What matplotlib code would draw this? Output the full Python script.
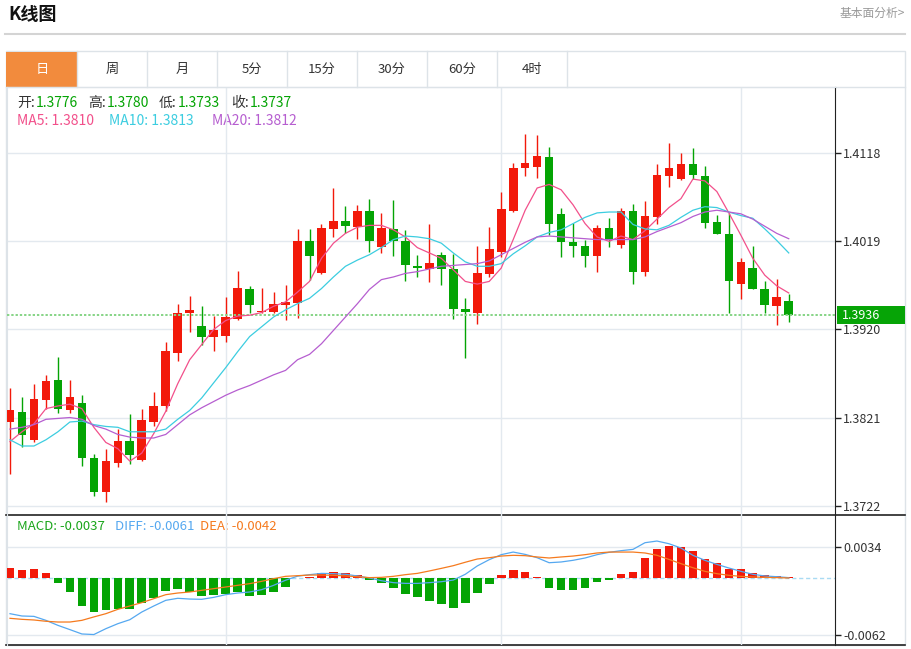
import numpy as np
import matplotlib.pyplot as plt
import matplotlib.transforms as mtransforms
from matplotlib.patches import Rectangle

plt.rcParams['font.family'] = ['Noto Sans CJK SC', 'DejaVu Sans']

# Data (daily candles)
opens = [1.3816, 1.3827, 1.3796, 1.3841, 1.3863, 1.3830, 1.3837, 1.3776, 1.3737, 1.3770,
         1.3795, 1.3773, 1.3816, 1.3834, 1.3894, 1.3938, 1.3924, 1.3911, 1.3913, 1.3932,
         1.3965, 1.3940, 1.3940, 1.3947, 1.3950, 1.4019, 1.3984, 1.4033, 1.4042, 1.4035,
         1.4053, 1.4013, 1.4033, 1.4019, 1.3991, 1.3988, 1.4004, 1.3988, 1.3943, 1.3939,
         1.3982, 1.4007, 1.4053, 1.4101, 1.4103, 1.4114, 1.4050, 1.4018, 1.4014, 1.4003,
         1.4034, 1.4015, 1.4053, 1.3985, 1.4046, 1.4092, 1.4089, 1.4106, 1.4092, 1.4041,
         1.4027, 1.3971, 1.3989, 1.3966, 1.3946, 1.3952]
highs = [1.3854, 1.3844, 1.3859, 1.3869, 1.3889, 1.3863, 1.3846, 1.3780, 1.3786, 1.3808,
         1.3825, 1.3831, 1.3850, 1.3906, 1.3949, 1.3958, 1.3946, 1.3935, 1.3957, 1.3986,
         1.3969, 1.3967, 1.3962, 1.3970, 1.4033, 1.4033, 1.4039, 1.4079, 1.4059, 1.4060,
         1.4067, 1.4051, 1.4065, 1.4032, 1.4004, 1.4038, 1.4007, 1.4005, 1.3955, 1.4014,
         1.4035, 1.4075, 1.4107, 1.4140, 1.4139, 1.4125, 1.4056, 1.4040, 1.4021, 1.4037,
         1.4045, 1.4057, 1.4061, 1.4064, 1.4106, 1.4130, 1.4118, 1.4124, 1.4104, 1.4049,
         1.4051, 1.4000, 1.4014, 1.3974, 1.3977, 1.3960]
lows = [1.3758, 1.3788, 1.3793, 1.3831, 1.3826, 1.3826, 1.3766, 1.3733, 1.3726, 1.3765,
        1.3769, 1.3772, 1.3811, 1.3828, 1.3885, 1.3917, 1.3903, 1.3896, 1.3906, 1.3931,
        1.3939, 1.3939, 1.3938, 1.3931, 1.3933, 1.3976, 1.3982, 1.4024, 1.4028, 1.4022,
        1.4007, 1.4006, 1.4003, 1.3975, 1.3979, 1.3973, 1.3970, 1.3932, 1.3888, 1.3926,
        1.3979, 1.4002, 1.4052, 1.4093, 1.4090, 1.4026, 1.4001, 1.4001, 1.3990, 1.3985,
        1.4013, 1.4012, 1.3971, 1.3980, 1.4039, 1.4080, 1.4088, 1.4089, 1.4034, 1.4027,
        1.3938, 1.3954, 1.3965, 1.3938, 1.3925, 1.3928]
closes = [1.3829, 1.3801, 1.3842, 1.3862, 1.3831, 1.3844, 1.3776, 1.3737, 1.3772, 1.3795,
          1.3779, 1.3818, 1.3834, 1.3896, 1.3939, 1.3942, 1.3912, 1.3919, 1.3934, 1.3967,
          1.3947, 1.3941, 1.3949, 1.3951, 1.4019, 1.4003, 1.4034, 1.4042, 1.4036, 1.4053,
          1.4019, 1.4034, 1.4019, 1.3992, 1.3989, 1.3995, 1.3988, 1.3943, 1.3940, 1.3983,
          1.4010, 1.4055, 1.4102, 1.4107, 1.4115, 1.4039, 1.4018, 1.4014, 1.4003, 1.4034,
          1.4021, 1.4053, 1.3985, 1.4047, 1.4094, 1.4101, 1.4106, 1.4094, 1.4040, 1.4027,
          1.3975, 1.3996, 1.3965, 1.3948, 1.3956, 1.3936]
ma5 = [1.3794, 1.3805, 1.3814, 1.3831, 1.3834, 1.3836, 1.3831, 1.3810, 1.3793, 1.3786,
       1.3772, 1.3781, 1.3803, 1.3828, 1.3859, 1.3886, 1.3903, 1.3920, 1.3930, 1.3935,
       1.3936, 1.3939, 1.3946, 1.3951, 1.3962, 1.3974, 1.4000, 1.4017, 1.4028, 1.4035,
       1.4037, 1.4037, 1.4032, 1.4024, 1.4012, 1.4006, 1.4000, 1.3987, 1.3974, 1.3971,
       1.3974, 1.3989, 1.4021, 1.4054, 1.4079, 1.4083, 1.4077, 1.4060, 1.4039, 1.4024,
       1.4019, 1.4025, 1.4021, 1.4031, 1.4044, 1.4057, 1.4067, 1.4089, 1.4087, 1.4075,
       1.4051, 1.4026, 1.4000, 1.3981, 1.3969, 1.3961]
ma10 = [1.3796, 1.3789, 1.3789, 1.3796, 1.3805, 1.3816, 1.3817, 1.3813, 1.3811, 1.3810,
        1.3805, 1.3805, 1.3805, 1.3808, 1.3819, 1.3829, 1.3843, 1.3860, 1.3877, 1.3895,
        1.3912, 1.3923, 1.3934, 1.3942, 1.3949, 1.3955, 1.3966, 1.3979, 1.3991, 1.3998,
        1.4004, 1.4012, 1.4021, 1.4025, 1.4024, 1.4022, 1.4017, 1.4006, 1.3996, 1.3991,
        1.3991, 1.3994, 1.4005, 1.4014, 1.4024, 1.4029, 1.4032, 1.4039, 1.4046, 1.4051,
        1.4052, 1.4052, 1.4038, 1.4033, 1.4032, 1.4037, 1.4046, 1.4054, 1.4058, 1.4057,
        1.4052, 1.4048, 1.4045, 1.4033, 1.4020, 1.4006]
ma20 = [1.3808, 1.3810, 1.3813, 1.3819, 1.3820, 1.3821, 1.3819, 1.3812, 1.3808, 1.3802,
        1.3799, 1.3798, 1.3798, 1.3802, 1.3813, 1.3824, 1.3832, 1.3839, 1.3846, 1.3852,
        1.3857, 1.3863, 1.3869, 1.3874, 1.3886, 1.3892, 1.3904, 1.3919, 1.3934, 1.3949,
        1.3965, 1.3976, 1.3979, 1.3983, 1.3985, 1.3988, 1.3991, 1.3992, 1.3993, 1.3994,
        1.3997, 1.4004, 1.4011, 1.4018, 1.4024, 1.4025, 1.4024, 1.4023, 1.4022, 1.4021,
        1.4021, 1.4021, 1.4021, 1.4024, 1.4030, 1.4035, 1.4040, 1.4047, 1.4052, 1.4054,
        1.4052, 1.4050, 1.4044, 1.4036, 1.4028, 1.4022]
diff = [-0.00385, -0.00410, -0.00414, -0.00457, -0.00511, -0.00557, -0.00604, -0.00610, -0.00547, -0.00493,
        -0.00450, -0.00367, -0.00302, -0.00241, -0.00219, -0.00227, -0.00230, -0.00209, -0.00180, -0.00162,
        -0.00151, -0.00126, -0.00079, -0.00024, 0.00020, 0.00036, 0.00050, 0.00047, 0.00040, 0.00022,
        0.00000, -0.00029, -0.00050, -0.00058, -0.00058, -0.00050, -0.00040, -0.00022, 0.00040, 0.00130,
        0.00198, 0.00252, 0.00280, 0.00255, 0.00219, 0.00165, 0.00173, 0.00191, 0.00216, 0.00252,
        0.00277, 0.00295, 0.00309, 0.00381, 0.00399, 0.00370, 0.00324, 0.00245, 0.00191, 0.00147,
        0.00108, 0.00072, 0.00040, 0.00022, 0.00014, 0.00004]
dea = [-0.00435, -0.00446, -0.00453, -0.00467, -0.00475, -0.00475, -0.00457, -0.00420, -0.00385, -0.00338,
       -0.00302, -0.00266, -0.00223, -0.00180, -0.00162, -0.00151, -0.00133, -0.00115, -0.00097, -0.00079,
       -0.00061, -0.00036, -0.00007, 0.00018, 0.00025, 0.00032, 0.00032, 0.00029, 0.00022, 0.00014,
       0.00004, 0.00007, 0.00018, 0.00036, 0.00050, 0.00076, 0.00104, 0.00133, 0.00170, 0.00205,
       0.00219, 0.00237, 0.00245, 0.00241, 0.00227, 0.00216, 0.00227, 0.00237, 0.00252, 0.00270,
       0.00280, 0.00280, 0.00280, 0.00270, 0.00245, 0.00201, 0.00155, 0.00111, 0.00072, 0.00047,
       0.00029, 0.00018, 0.00011, 0.00007, 0.00004, 0.00000]
macd = [0.00111, 0.00090, 0.00097, 0.00050, -0.00054, -0.00151, -0.00298, -0.00370, -0.00342, -0.00334,
        -0.00338, -0.00270, -0.00216, -0.00137, -0.00115, -0.00147, -0.00191, -0.00180, -0.00173, -0.00155,
        -0.00191, -0.00180, -0.00151, -0.00094, 0.00000, 0.00010, 0.00057, 0.00068, 0.00050, 0.00036,
        -0.00022, -0.00050, -0.00112, -0.00173, -0.00209, -0.00245, -0.00284, -0.00324, -0.00270, -0.00162,
        -0.00068, 0.00029, 0.00083, 0.00061, 0.00007, -0.00104, -0.00129, -0.00126, -0.00104, -0.00043,
        -0.00018, 0.00040, 0.00061, 0.00212, 0.00309, 0.00342, 0.00338, 0.00288, 0.00201, 0.00158,
        0.00101, 0.00101, 0.00050, 0.00032, 0.00022, 0.00010]

price_ticks = [1.3722, 1.3821, 1.3920, 1.4019, 1.4118]
macd_ticks = [-0.0062, 0.0034]
month_starts = [18, 41, 61]
tabs = ['日', '周', '月', '5分', '15分', '30分', '60分', '4时']
ohlc_labels = [('开:', '1.3776'), ('高:', '1.3780'), ('低:', '1.3733'), ('收:', '1.3737')]
ma_labels = ['MA5: 1.3810', 'MA10: 1.3813', 'MA20: 1.3812']
macd_labels = ['MACD: -0.0037', 'DIFF: -0.0061', 'DEA: -0.0042']

# Styles
RED, GREEN = '#f2190a', '#04a404'
C_MA5, C_MA10, C_MA20 = '#f2508b', '#3ccde0', '#b65ed0'
C_DIFF, C_DEA = '#55a8f0', '#f57a1e'
GRID = '#e3e9ef'
TXT = '#333333'

W, H = 911, 649
fig = plt.figure(figsize=(W / 100, H / 100), dpi=100)


def px_rect(x0, y0, x1, y1):
    return [x0 / W, 1 - y1 / H, (x1 - x0) / W, (y1 - y0) / H]


# Page furniture in pixel coordinates
bg = fig.add_axes([0, 0, 1, 1])
bg.set_xlim(0, W)
bg.set_ylim(H, 0)
bg.axis('off')
bg.text(8, 15, 'K线图', fontsize=13, fontweight='bold', va='center', color='#111111')
bg.text(905, 13, '基本面分析>', fontsize=8.5, va='center', ha='right', color='#999999')
bg.plot([5, 905], [34, 34], color='#d4d4d4', lw=1.5)
bg.add_patch(Rectangle((5.5, 51), 899.5, 594, fc='white', ec='#dde3e8', lw=1))
bg.add_patch(Rectangle((6, 51.5), 71, 35, fc='#f28b3d', ec='none'))
bg.plot([5.5, 905], [87, 87], color='#dde3e8', lw=1)
for k, t in enumerate(tabs):
    bg.plot([77 + 70 * k] * 2, [51, 87], color='#dde3e8', lw=1)
    bg.text(42 + 70 * k, 69, t, ha='center', va='center', fontsize=9.5,
            color='white' if k == 0 else TXT)
for k, (lab, val) in enumerate(ohlc_labels):
    x0 = [17, 88, 159, 231][k]
    bg.text(x0, 103, lab, fontsize=10, va='center', color=TXT)
    bg.text(x0 + 19, 103, val, fontsize=10, va='center', color=GREEN)
for x0, lab, c in zip([17, 109, 212], ma_labels, [C_MA5, C_MA10, C_MA20]):
    bg.text(x0, 121, lab, fontsize=10, va='center', color=c)
for x0, lab, c in zip([17, 115, 200], macd_labels, ['#1aa51a', C_DIFF, C_DEA]):
    bg.text(x0, 527, lab, fontsize=9.5, va='center', color=c)
bg.plot([6, 905], [515, 515], color='#222222', lw=1.2)
bg.plot([6, 905], [645, 645], color='#222222', lw=1.2)

x = np.arange(len(closes))
o, c = np.array(opens), np.array(closes)
cols = np.where(c >= o, RED, GREEN)

# Candle panel
ax = fig.add_axes(px_rect(7, 87, 835, 515))
ax.set_facecolor('none')
ax.vlines(x, lows, highs, colors=cols, lw=1, zorder=2)
ax.bar(x, np.maximum(np.abs(c - o), 0.00011), bottom=np.minimum(o, c),
       width=0.72, color=cols, lw=0, zorder=3)
ax.plot(x, ma5, color=C_MA5, lw=0.9, zorder=4)
ax.plot(x, ma10, color=C_MA10, lw=0.9, zorder=4)
ax.plot(x, ma20, color=C_MA20, lw=0.9, zorder=4)
ax.axhline(closes[-1], color='#86d486', lw=1.4, ls=(0, (1.2, 1.0)), zorder=3)
ax.set_xlim(-0.25, 68.86)
ax.set_ylim(1.371145, 1.419252)
ax.set_yticks(price_ticks)
ax.set_yticklabels([f'{p:.4f}' for p in price_ticks])
ax.set_xticks(month_starts)
ax.set_xticklabels([])
ax.yaxis.tick_right()
ax.tick_params(axis='y', length=4, width=1, pad=2, labelsize=9, labelcolor=TXT, color='#222222')
ax.tick_params(axis='x', length=0)
ax.grid(True, color=GRID, lw=1)
ax.set_axisbelow(True)
for side in ['left', 'top']:
    ax.spines[side].set_color('#dde3e8')
ax.spines['bottom'].set_visible(False)
ax.spines['right'].set_color('#222222')

# last price tag
trans = mtransforms.blended_transform_factory(ax.transAxes, ax.transData)
ax.add_patch(Rectangle((1.0024, closes[-1] - 0.00101), 0.0821, 0.00202, transform=trans,
                       fc='#06a406', ec='none', clip_on=False, zorder=5))
ax.text(1.0085, closes[-1], f'{closes[-1]:.4f}', transform=trans, color='white',
        fontsize=9, va='center', zorder=6)

# MACD panel
mx = fig.add_axes(px_rect(7, 515, 835, 645))
mx.set_facecolor('none')
mx.bar(x, macd, width=0.72, color=np.where(np.array(macd) >= 0, RED, GREEN), lw=0, zorder=3)
mx.axhline(0, color='#a9dbf3', lw=1, ls=(0, (3, 2)), zorder=2)
mx.plot(x, diff, color=C_DIFF, lw=0.9, zorder=4)
mx.plot(x, dea, color=C_DEA, lw=0.9, zorder=4)
mx.set_xlim(-0.25, 68.86)
mx.set_ylim(-0.00723, 0.00680)
mx.set_yticks(macd_ticks)
mx.set_yticklabels([f'{v:.4f}' for v in macd_ticks])
mx.set_xticks(month_starts)
mx.set_xticklabels([])
mx.yaxis.tick_right()
mx.tick_params(axis='y', length=4, width=1, pad=2, labelsize=9, labelcolor=TXT, color='#222222')
mx.tick_params(axis='x', length=0)
mx.grid(True, color=GRID, lw=1)
mx.set_axisbelow(True)
mx.spines['left'].set_color('#dde3e8')
mx.spines['top'].set_visible(False)
mx.spines['bottom'].set_visible(False)
mx.spines['right'].set_color('#222222')

fig.savefig('out.png', dpi=100)
